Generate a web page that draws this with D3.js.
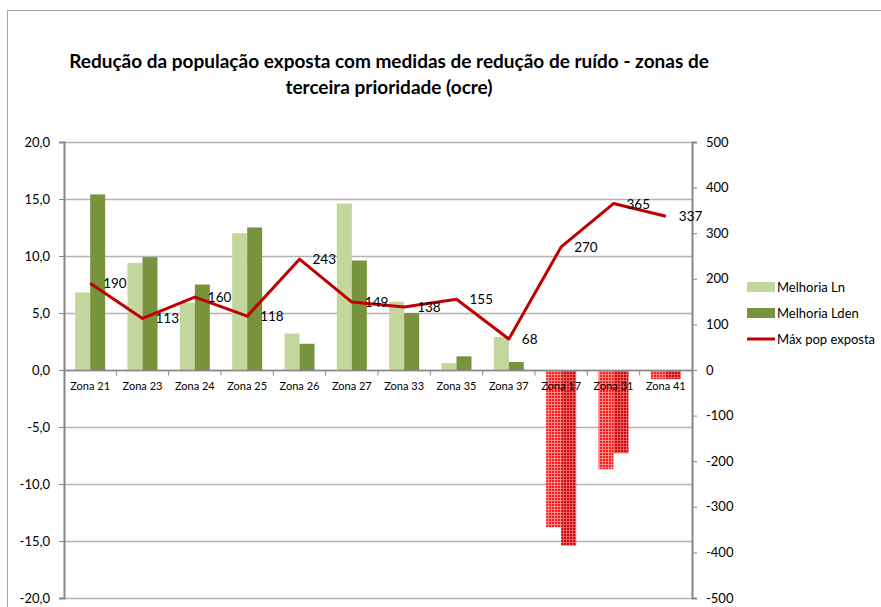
<!DOCTYPE html>
<html>
<head>
<meta charset="utf-8">
<script src="https://cdn.jsdelivr.net/npm/d3@7"></script>
<style>
body { margin: 0; background: #fff; }
svg text { font-family: Lato, "Open Sans", sans-serif; fill: #000; }
</style>
</head>
<body>
<svg id="chart" width="881" height="607"></svg>
<script>
// data
var zones = ["Zona 21", "Zona 23", "Zona 24", "Zona 25", "Zona 26", "Zona 27", "Zona 33", "Zona 35", "Zona 37", "Zona 17", "Zona 31", "Zona 41"];
var melhoriaLn = [6.8, 9.4, 5.9, 12.0, 3.2, 14.6, 6.0, 0.6, 2.9, -13.8, -8.7, -0.8];
var melhoriaLden = [15.4, 9.9, 7.5, 12.5, 2.3, 9.6, 5.0, 1.2, 0.7, -15.4, -7.3, -0.8];
var maxPop = [190, 113, 160, 118, 243, 149, 138, 155, 68, 270, 365, 337];
var leftTicks = [20, 15, 10, 5, 0, -5, -10, -15, -20];
var rightTicks = [500, 400, 300, 200, 100, 0, -100, -200, -300, -400, -500];

var width = 881, height = 607;
var plot = {left: 64, right: 692, top: 142, bottom: 598};

var svg = d3.select("#chart");

// hatched fills for the negative bars
var defs = svg.append("defs");
function hatch(id, base, line) {
    var p = defs.append("pattern")
        .attr("id", id)
        .attr("width", 3)
        .attr("height", 3)
        .attr("patternUnits", "userSpaceOnUse");
    p.append("rect").attr("width", 3).attr("height", 3).attr("fill", base);
    p.append("rect").attr("x", 2).attr("width", 1).attr("height", 3).attr("fill", line);
    p.append("rect").attr("y", 2).attr("width", 3).attr("height", 1).attr("fill", line);
}
hatch("negLn", "#ff1a1a", "#ff8a8a");
hatch("negLden", "#c80a0a", "#ee6060");

// outer frame
svg.append("rect")
    .attr("x", 7.5).attr("y", 10.5)
    .attr("width", 900).attr("height", 620)
    .attr("fill", "none")
    .attr("stroke", "#a6a6a6");

var x = d3.scaleBand()
    .domain(zones)
    .range([plot.left, plot.right]);

var yL = d3.scaleLinear().domain([-20, 20]).range([plot.bottom, plot.top]);
var yR = d3.scaleLinear().domain([-500, 500]).range([plot.bottom, plot.top]);

// gridlines
svg.append("g")
    .selectAll("line")
    .data(leftTicks)
    .enter()
    .append("line")
    .attr("x1", plot.left).attr("x2", plot.right)
    .attr("y1", function(d) { return Math.round(yL(d)) + 0.5; })
    .attr("y2", function(d) { return Math.round(yL(d)) + 0.5; })
    .attr("stroke", "#b3b3b3")
    .attr("stroke-width", 1.5);

// bars
var barW = 15;
var pad = (x.bandwidth() - 2 * barW) / 2;
function drawBars(values, color, neg, offset) {
    svg.append("g")
        .selectAll("rect")
        .data(values)
        .enter()
        .append("rect")
        .attr("x", function(d, i) { return x(zones[i]) + pad + offset; })
        .attr("width", barW)
        .attr("y", function(d) { return yL(Math.max(0, d)); })
        .attr("height", function(d) { return Math.abs(yL(d) - yL(0)); })
        .attr("fill", function(d) { return d < 0 ? "url(#" + neg + ")" : color; });
}
drawBars(melhoriaLn, "#c3d69b", "negLn", 0);
drawBars(melhoriaLden, "#77933c", "negLden", barW);

// left axis
var leftAxis = svg.append("g")
    .attr("transform", "translate(" + plot.left + ",0)")
    .call(d3.axisLeft(yL).tickValues(leftTicks).tickSize(5).tickPadding(9)
        .tickFormat(function(d) { return d3.format(".1f")(d).replace(".", ",").replace("−", "-"); }));
leftAxis.select(".domain").attr("stroke", "#868686").attr("stroke-width", 2);
leftAxis.selectAll(".tick line").attr("stroke", "#868686");
leftAxis.selectAll("text").style("font-size", "13px");

// right axis
var rightAxis = svg.append("g")
    .attr("transform", "translate(" + plot.right + ",0)")
    .call(d3.axisRight(yR).tickValues(rightTicks).tickSize(5).tickPadding(9)
        .tickFormat(function(d) { return String(d); }));
rightAxis.select(".domain").attr("stroke", "#868686").attr("stroke-width", 2);
rightAxis.selectAll(".tick line").attr("stroke", "#868686");
rightAxis.selectAll("text").style("font-size", "13px");

// category axis along zero
var zeroY = Math.round(yL(0)) + 0.5;
svg.append("line")
    .attr("x1", plot.left).attr("x2", plot.right)
    .attr("y1", zeroY).attr("y2", zeroY)
    .attr("stroke", "#868686").attr("stroke-width", 1.5);
svg.append("g")
    .selectAll("line")
    .data(zones.slice(1))
    .enter()
    .append("line")
    .attr("x1", function(d) { return x(d); })
    .attr("x2", function(d) { return x(d); })
    .attr("y1", zeroY).attr("y2", zeroY + 5)
    .attr("stroke", "#868686");
svg.append("g")
    .selectAll("text")
    .data(zones)
    .enter()
    .append("text")
    .attr("x", function(d) { return x(d) + x.bandwidth() / 2; })
    .attr("y", zeroY + 19)
    .attr("text-anchor", "middle")
    .style("font-size", "11px")
    .text(function(d) { return d; });

// line series
var line = d3.line()
    .x(function(d, i) { return x(zones[i]) + x.bandwidth() / 2; })
    .y(function(d) { return yR(d); });
svg.append("path")
    .datum(maxPop)
    .attr("d", line)
    .attr("fill", "none")
    .attr("stroke", "#c00000")
    .attr("stroke-width", 3)
    .attr("stroke-linejoin", "round");

svg.append("g")
    .selectAll("text")
    .data(maxPop)
    .enter()
    .append("text")
    .attr("x", function(d, i) { return x(zones[i]) + x.bandwidth() / 2 + 13; })
    .attr("y", function(d) { return yR(d) + 5; })
    .style("font-size", "13.5px")
    .text(function(d) { return d; });

// title
var title = svg.append("text")
    .attr("text-anchor", "middle")
    .style("font-size", "19px")
    .style("font-weight", "bold");
title.append("tspan").attr("x", 389).attr("y", 68)
    .text("Redução da população exposta com medidas de redução de ruído - zonas de");
title.append("tspan").attr("x", 389).attr("y", 94)
    .text("terceira prioridade (ocre)");

// legend
var legendItems = [
    {name: "Melhoria Ln", color: "#c3d69b", type: "box"},
    {name: "Melhoria Lden", color: "#77933c", type: "box"},
    {name: "Máx pop exposta", color: "#c00000", type: "line"}
];
var legend = svg.append("g").attr("transform", "translate(747,287)");
legendItems.forEach(function(d, i) {
    var g = legend.append("g").attr("transform", "translate(0," + (i * 26) + ")");
    if (d.type == "box") {
        g.append("rect").attr("x", 0).attr("y", -5).attr("width", 28).attr("height", 10).attr("fill", d.color);
    } else {
        g.append("line").attr("x1", 0).attr("x2", 28).attr("y1", 0).attr("y2", 0)
            .attr("stroke", d.color).attr("stroke-width", 3);
    }
    g.append("text").attr("x", 30).attr("y", 5).style("font-size", "13px").text(d.name);
});
</script>
</body>
</html>
